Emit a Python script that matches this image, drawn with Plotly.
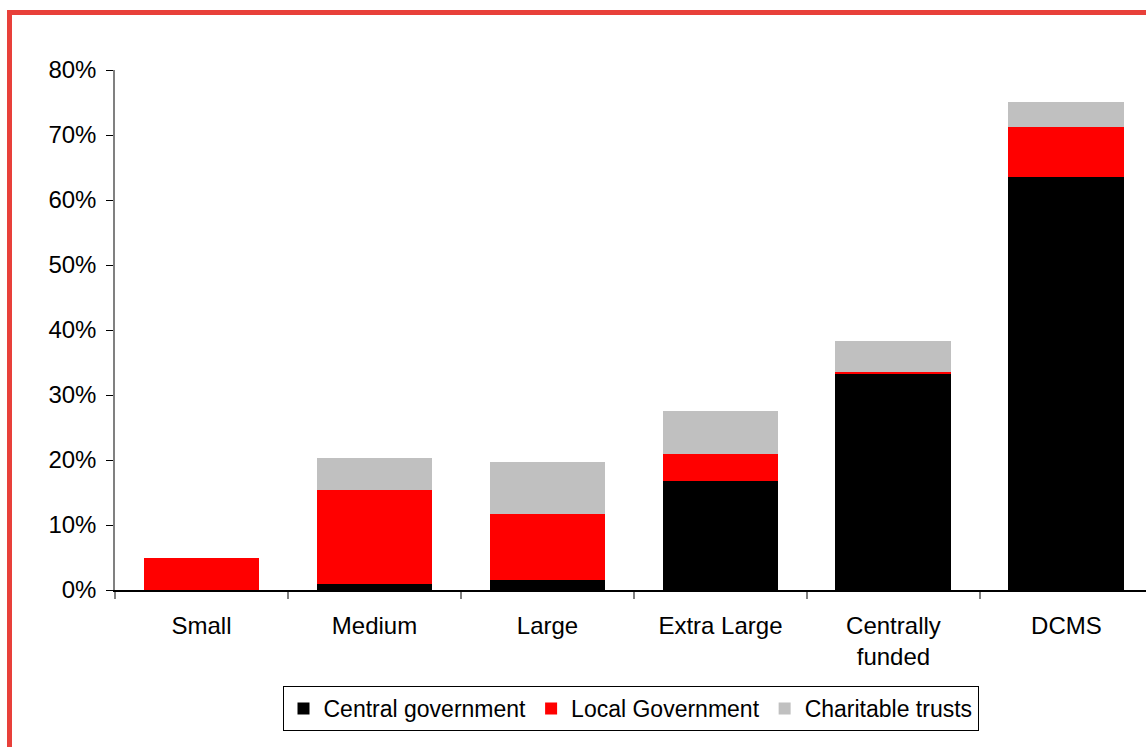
import plotly.graph_objects as go

# Share of income by funding source, per museum group
categories = ["Small", "Medium", "Large", "Extra Large", "Centrally<br>funded", "DCMS"]
central_government = [0.0, 0.9, 1.5, 16.7, 33.3, 63.5]
local_government = [5.0, 14.5, 10.2, 4.2, 0.2, 7.7]
charitable_trusts = [0.0, 4.9, 8.0, 6.6, 4.8, 3.9]
y_ticks = [0, 10, 20, 30, 40, 50, 60, 70, 80]
y_tick_labels = [f"{v}%" for v in y_ticks]

W, H = 1146, 747
M_L, M_R, M_T, M_B = 115, 0, 70, 157
plot_w = W - M_L - M_R
plot_h = H - M_T - M_B

fig = go.Figure()
series = [
    ("Central government", central_government, "#000000"),
    ("Local Government", local_government, "#FF0000"),
    ("Charitable trusts", charitable_trusts, "#C0C0C0"),
]
for name, vals, col in series:
    fig.add_trace(go.Bar(
        x=categories, y=vals, name=name,
        marker=dict(color=col, line=dict(width=0)),
        width=0.67, showlegend=False, legendgroup=name,
    ))
# Legend entries with larger square swatches
for name, vals, col in series:
    fig.add_trace(go.Scatter(
        x=[None], y=[None], mode="markers", name=name, legendgroup=name,
        marker=dict(symbol="square", size=16, color=col, line=dict(width=0)),
    ))

# Red frame along top and left edges of the page
def px_x(p):
    return (p - M_L) / plot_w

def px_y(p):
    return (H - M_B - p) / plot_h

frame = "#E8403A"
fig.add_shape(type="line", xref="paper", yref="paper",
              x0=px_x(9.5), x1=px_x(9.5), y0=px_y(10), y1=px_y(760),
              line=dict(color=frame, width=5))
fig.add_shape(type="line", xref="paper", yref="paper",
              x0=px_x(7), x1=px_x(1160), y0=px_y(12.5), y1=px_y(12.5),
              line=dict(color=frame, width=5))

font_family = "Liberation Sans, Arial, sans-serif"
fig.update_layout(
    width=W, height=H,
    margin=dict(l=M_L, r=M_R, t=M_T, b=M_B, pad=0),
    barmode="stack",
    bargap=0.33,
    plot_bgcolor="white",
    paper_bgcolor="white",
    font=dict(family=font_family, size=24, color="#000000"),
    showlegend=True,
    legend=dict(
        orientation="h",
        x=0.5, xanchor="center",
        y=px_y(686), yanchor="top",
        bordercolor="#000000", borderwidth=1,
        font=dict(size=23, family=font_family),
        itemsizing="constant",
        traceorder="normal",
        tracegroupgap=0,
        itemwidth=30,
    ),
    xaxis=dict(
        range=[-0.5, 5.46],
        showline=True, linecolor="#000000", linewidth=1.5,
        ticks="outside", tickson="boundaries", ticklen=7,
        tickcolor="#808080", tickwidth=1.5,
        showgrid=False, zeroline=False,
        tickfont=dict(size=24),
        ticklabelstandoff=13,
    ),
    yaxis=dict(
        range=[0, 80],
        tickvals=y_ticks, ticktext=y_tick_labels,
        showline=True, linecolor="#808080", linewidth=1.5,
        ticks="outside", ticklen=7, tickcolor="#000000", tickwidth=1,
        showgrid=False, zeroline=False,
        tickfont=dict(size=24),
        ticklabelstandoff=5,
    ),
)

fig.write_html("out.html")
